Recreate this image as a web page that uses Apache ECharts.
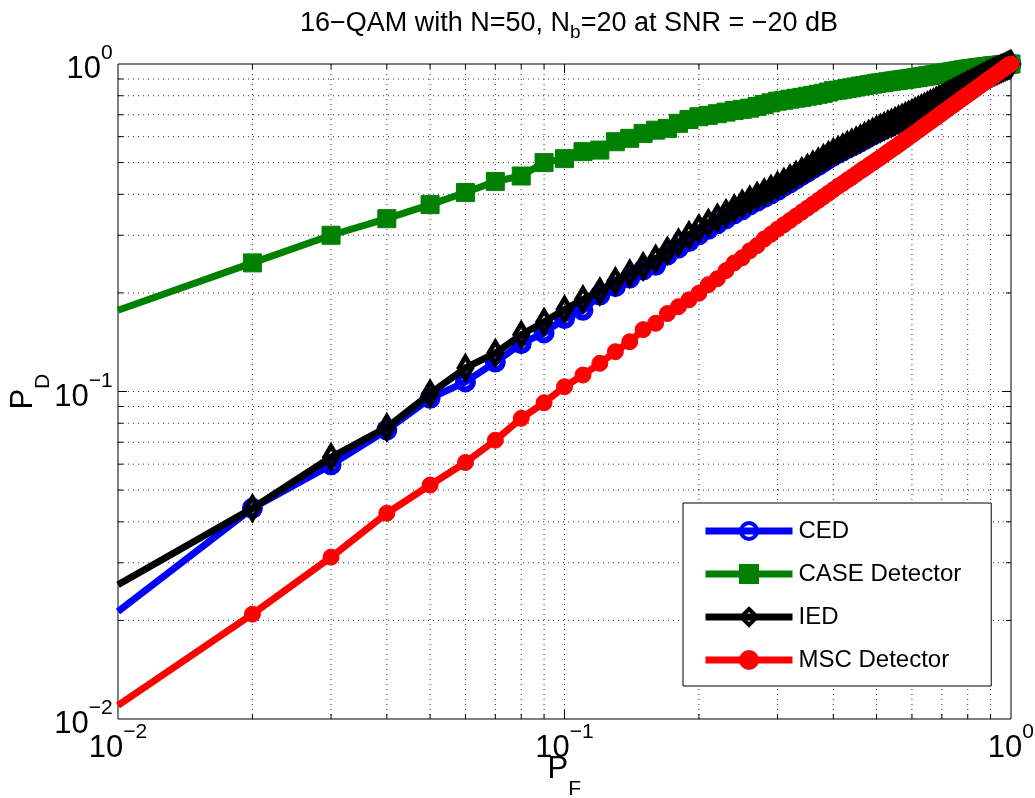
<!DOCTYPE html>
<html><head><meta charset="utf-8">
<script src="https://cdn.jsdelivr.net/npm/echarts@6/dist/echarts.min.js"></script>
<style>html,body{margin:0;padding:0;background:#fff}#c{width:1035px;height:798px}</style>
</head><body><div id="c"></div>
<script>
// ---------- data ----------
const PF = [0.01,0.02,0.03,0.04,0.05,0.06,0.07,0.08,0.09,0.10,
  0.11,0.12,0.13,0.14,0.15,0.16,0.17,0.18,0.19,0.20,
  0.21,0.22,0.23,0.24,0.25,0.26,0.27,0.28,0.29,0.30,
  0.31,0.32,0.33,0.34,0.35,0.36,0.37,0.38,0.39,0.40,
  0.41,0.42,0.43,0.44,0.45,0.46,0.47,0.48,0.49,0.50,
  0.51,0.52,0.53,0.54,0.55,0.56,0.57,0.58,0.59,0.60,
  0.61,0.62,0.63,0.64,0.65,0.66,0.67,0.68,0.69,0.70,
  0.71,0.72,0.73,0.74,0.75,0.76,0.77,0.78,0.79,0.80,
  0.81,0.82,0.83,0.84,0.85,0.86,0.87,0.88,0.89,0.90,
  0.91,0.92,0.93,0.94,0.95,0.96,0.97,0.98,0.99,1.00];
const CED = [0.0213,0.0440,0.0597,0.0763,0.0953,0.107,0.123,0.140,0.151,0.167,
  0.177,0.197,0.209,0.222,0.235,0.243,0.261,0.274,0.287,0.301,
  0.313,0.325,0.337,0.349,0.359,0.371,0.381,0.391,0.401,0.411,
  0.423,0.434,0.445,0.457,0.468,0.479,0.490,0.502,0.513,0.524,
  0.534,0.543,0.552,0.561,0.570,0.579,0.588,0.598,0.607,0.615,
  0.624,0.632,0.640,0.647,0.655,0.663,0.671,0.679,0.687,0.695,
  0.703,0.711,0.719,0.727,0.735,0.743,0.751,0.759,0.767,0.775,
  0.783,0.791,0.799,0.807,0.815,0.823,0.831,0.839,0.847,0.855,
  0.862,0.870,0.877,0.885,0.893,0.900,0.908,0.915,0.923,0.930,
  0.937,0.944,0.951,0.958,0.965,0.972,0.979,0.986,0.993,1.000];
const CASE = [0.177,0.247,0.300,0.337,0.372,0.405,0.438,0.455,0.500,0.514,
  0.540,0.546,0.579,0.593,0.614,0.628,0.636,0.659,0.677,0.690,
  0.697,0.705,0.713,0.721,0.727,0.733,0.742,0.752,0.761,0.770,
  0.775,0.781,0.786,0.791,0.797,0.802,0.808,0.814,0.821,0.829,
  0.832,0.837,0.842,0.846,0.851,0.856,0.860,0.864,0.868,0.873,
  0.876,0.879,0.883,0.886,0.889,0.892,0.895,0.898,0.901,0.904,
  0.907,0.910,0.914,0.917,0.920,0.923,0.926,0.929,0.933,0.936,
  0.939,0.941,0.944,0.947,0.950,0.953,0.956,0.959,0.962,0.965,
  0.967,0.969,0.971,0.973,0.975,0.977,0.979,0.981,0.983,0.985,
  0.987,0.988,0.990,0.991,0.993,0.994,0.996,0.997,0.999,1.000];
const IED = [0.0257,0.0440,0.0630,0.0777,0.0985,0.118,0.131,0.149,0.163,0.178,
  0.191,0.202,0.217,0.229,0.241,0.254,0.269,0.285,0.300,0.315,
  0.327,0.339,0.350,0.362,0.374,0.385,0.395,0.405,0.415,0.425,
  0.436,0.447,0.458,0.470,0.481,0.492,0.503,0.515,0.526,0.537,
  0.546,0.556,0.565,0.574,0.583,0.592,0.602,0.611,0.620,0.629,
  0.637,0.645,0.653,0.660,0.668,0.676,0.684,0.692,0.699,0.707,
  0.715,0.723,0.731,0.739,0.747,0.755,0.762,0.770,0.778,0.786,
  0.794,0.801,0.809,0.817,0.825,0.832,0.840,0.848,0.855,0.863,
  0.870,0.878,0.885,0.892,0.900,0.907,0.914,0.921,0.929,0.936,
  0.942,0.949,0.955,0.962,0.968,0.974,0.981,0.987,0.994,1.000];
const MSC = [0.0110,0.0209,0.0312,0.0425,0.0518,0.0607,0.0710,0.0828,0.0924,0.1034,
  0.1123,0.1219,0.1323,0.1419,0.1545,0.1615,0.1730,0.1815,0.1905,0.1995,
  0.212,0.221,0.234,0.247,0.256,0.269,0.279,0.292,0.302,0.313,
  0.323,0.333,0.343,0.353,0.363,0.373,0.383,0.393,0.403,0.413,
  0.423,0.432,0.442,0.451,0.461,0.471,0.480,0.490,0.499,0.509,
  0.518,0.528,0.538,0.548,0.557,0.567,0.577,0.587,0.597,0.607,
  0.617,0.627,0.637,0.647,0.657,0.667,0.677,0.687,0.697,0.707,
  0.717,0.727,0.737,0.747,0.757,0.767,0.777,0.787,0.797,0.806,
  0.816,0.826,0.836,0.846,0.856,0.866,0.876,0.886,0.895,0.905,
  0.915,0.925,0.935,0.945,0.955,0.965,0.975,0.985,0.993,1.000];
const seriesNames = ['CED','CASE Detector','IED','MSC Detector'];
const majorTicks = [0.01, 0.1, 1];
const tickExponents = ['\u22122', '\u22121', '0'];
const minorMultipliers = [2,3,4,5,6,7,8,9];
const titleText = '16\u2212QAM with N=50, N{sub|b}=20 at SNR = \u221220 dB{sp| }';

// ---------- build ----------
const AX_MIN = 0.01, AX_MAX = 1;
const FONT = '"Liberation Sans", Arial, Helvetica, sans-serif';
const gridVals = [];
majorTicks.forEach((d, i) => {
  if (i > 0 && i < majorTicks.length - 1) gridVals.push(d);
  if (i < majorTicks.length - 1) minorMultipliers.forEach(m => gridVals.push(d * m));
});

function tickLabel(v) {
  let idx = 0, best = Infinity;
  majorTicks.forEach((t, i) => { const d = Math.abs(Math.log10(t) - Math.log10(v)); if (d < best) { best = d; idx = i; } });
  return '{b|10}{s|' + tickExponents[idx] + '}{sp| }';
}
const labelRich = {
  b: {fontSize: 31, lineHeight: 31, verticalAlign: 'bottom', fontFamily: FONT, color: '#000'},
  s: {fontSize: 21, lineHeight: 21, verticalAlign: 'top', fontFamily: FONT, color: '#000'},
  sp: {fontSize: 1, lineHeight: 42, fontFamily: FONT}
};
const nameRich = {
  p: {fontSize: 31, lineHeight: 31, verticalAlign: 'top', fontFamily: FONT, color: '#000'},
  sub: {fontSize: 21, lineHeight: 21, verticalAlign: 'bottom', fontFamily: FONT, color: '#000'},
  sp: {fontSize: 1, lineHeight: 46, fontFamily: FONT}
};
const dotted = {stroke: '#333', lineWidth: 1, lineDash: [1, 4]};

function gridRenderer(vertical) {
  return function (params, api) {
    const v = vertical ? api.value(0) : api.value(1);
    const isMajor = majorTicks.some(t => Math.abs(t - v) < 1e-9);
    const len = isMajor ? 9 : 5;
    const tick = {stroke: '#000', lineWidth: 1};
    const children = [];
    if (vertical) {
      const a = api.coord([v, AX_MAX]), b = api.coord([v, AX_MIN]);
      children.push({type: 'line', shape: {x1: a[0], y1: a[1], x2: b[0], y2: b[1]}, style: dotted, silent: true});
      children.push({type: 'line', shape: {x1: a[0], y1: a[1], x2: a[0], y2: a[1] + len}, style: tick, silent: true});
      children.push({type: 'line', shape: {x1: b[0], y1: b[1], x2: b[0], y2: b[1] - len}, style: tick, silent: true});
    } else {
      const a = api.coord([AX_MIN, v]), b = api.coord([AX_MAX, v]);
      children.push({type: 'line', shape: {x1: a[0], y1: a[1], x2: b[0], y2: b[1]}, style: dotted, silent: true});
      children.push({type: 'line', shape: {x1: a[0], y1: a[1], x2: a[0] + len, y2: a[1]}, style: tick, silent: true});
      children.push({type: 'line', shape: {x1: b[0], y1: b[1], x2: b[0] - len, y2: b[1]}, style: tick, silent: true});
    }
    return {type: 'group', children};
  };
}

function mk(name, vals, color, symbol, size, hollowBorder, z) {
  return {
    name, type: 'line', z, clip: false, animation: false, showAllSymbol: true,
    symbol, symbolSize: size,
    data: PF.map((x, i) => i === 0 ? {value: [x, vals[i]], symbol: 'none'} : [x, vals[i]]),
    lineStyle: {color, width: 7},
    itemStyle: hollowBorder ? {color: 'rgba(255,255,255,0)', borderColor: color, borderWidth: hollowBorder}
                            : {color, borderColor: color, borderWidth: 1},
    emphasis: {disabled: true}
  };
}

const logAxis = (pos) => ({
  type: 'log', logBase: 10, min: AX_MIN, max: AX_MAX, position: pos,
  axisLine: {show: false}, axisTick: {show: false}, splitLine: {show: false}, minorSplitLine: {show: false}
});

const xAxis = Object.assign(logAxis('bottom'), {
  axisLabel: {formatter: tickLabel, rich: labelRich, margin: 3, showMinLabel: true, showMaxLabel: true},
  name: '{p|P}{sub|F}{sp| }', nameLocation: 'middle', nameGap: 35, nameMoveOverlap: false,
  nameTextStyle: {rich: nameRich}
});
const yAxis = Object.assign(logAxis('left'), {
  axisLabel: {formatter: tickLabel, rich: labelRich, margin: 5, showMinLabel: true, showMaxLabel: true},
  name: '{p|P}{sub|D}{sp| }', nameLocation: 'middle', nameGap: 64, nameRotate: 90, nameMoveOverlap: false,
  nameTextStyle: {rich: nameRich}
});

const chart = echarts.init(document.getElementById('c'), null, {renderer: 'canvas'});
chart.setOption({
  backgroundColor: '#fff',
  animation: false,
  title: {
    text: titleText, left: 295, top: 1,
    textStyle: {fontSize: 27, fontWeight: 'normal', fontFamily: FONT, color: '#000', lineHeight: 27,
      rich: {sub: {fontSize: 19, lineHeight: 19, verticalAlign: 'bottom', fontFamily: FONT, color: '#000'},
             sp: {fontSize: 1, lineHeight: 36}}}
  },
  grid: {left: 118, right: 24, top: 64, bottom: 79, containLabel: false, outerBoundsMode: 'none',
         show: true, borderColor: '#000', borderWidth: 1, backgroundColor: 'rgba(0,0,0,0)'},
  xAxis, yAxis,
  legend: {
    data: seriesNames, orient: 'vertical', left: 683, top: 503, z: 10,
    padding: [16, 30, 14, 19], itemGap: 19, itemWidth: 87, itemHeight: 20,
    borderColor: '#000', borderWidth: 1, backgroundColor: '#fff', borderRadius: 0,
    lineStyle: {width: 7},
    itemStyle: {borderWidth: 4},
    textStyle: {fontSize: 24, fontFamily: FONT, color: '#000', padding: [0, 0, 0, 1]},
    selectedMode: false
  },
  series: [
    {type: 'custom', coordinateSystem: 'cartesian2d', z: 1, silent: true, animation: false, clip: false,
     data: gridVals.map(g => [g, 0.5]), renderItem: gridRenderer(true)},
    {type: 'custom', coordinateSystem: 'cartesian2d', z: 1, silent: true, animation: false, clip: false,
     data: gridVals.map(g => [0.5, g]), renderItem: gridRenderer(false)},
    mk('CED', CED, '#0000ff', 'circle', 15, 6, 2),
    mk('CASE Detector', CASE, '#008000', 'rect', 18, 0, 3),
    mk('IED', IED, '#000000', 'diamond', [13, 22], 5, 4),
    mk('MSC Detector', MSC, '#ff0000', 'circle', 16, 0, 5)
  ]
});
</script></body></html>
